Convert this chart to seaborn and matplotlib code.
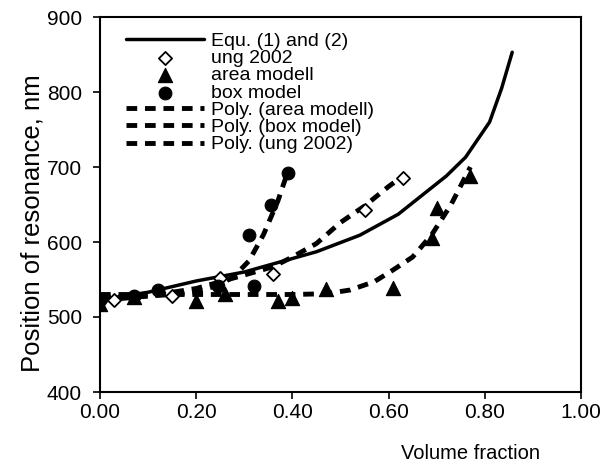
import numpy as np
import pandas as pd
import matplotlib
matplotlib.use("Agg")
import matplotlib.pyplot as plt
import seaborn as sns
from matplotlib.ticker import FormatStrFormatter

# ---- data ----
equ_x = [0.00, 0.10, 0.20, 0.30, 0.35, 0.45, 0.54, 0.62, 0.72, 0.76, 0.81, 0.835, 0.857]
equ_y = [523, 533, 548, 560, 569, 587, 609, 637, 688, 713, 760, 805, 853]

ung_x = [0.00, 0.03, 0.07, 0.15, 0.25, 0.36, 0.55, 0.63]
ung_y = [522, 523, 527, 528, 552, 558, 643, 686]

area_x = [0.00, 0.07, 0.20, 0.26, 0.37, 0.40, 0.47, 0.61, 0.69, 0.70, 0.77]
area_y = [518, 527, 522, 531, 521, 525, 538, 539, 605, 645, 688]

box_x = [0.00, 0.07, 0.12, 0.245, 0.32, 0.31, 0.355, 0.39]
box_y = [523, 528, 536, 542, 541, 610, 650, 692]

poly_area_x = [0.00, 0.10, 0.20, 0.30, 0.40, 0.47, 0.52, 0.57, 0.61, 0.65, 0.69, 0.73, 0.77]
poly_area_y = [530, 530, 530, 530, 530, 531, 536, 547, 563, 580, 610, 650, 700]

poly_box_x = [0.00, 0.05, 0.10, 0.15, 0.20, 0.25, 0.28, 0.31, 0.34, 0.37, 0.39]
poly_box_y = [526, 527, 528, 530, 534, 543, 555, 575, 610, 655, 693]

poly_ung_x = [0.00, 0.10, 0.20, 0.30, 0.36, 0.40, 0.45, 0.50, 0.55, 0.60, 0.63]
poly_ung_y = [522, 528, 538, 556, 567, 580, 598, 626, 648, 674, 688]

x_ticks = [0.0, 0.2, 0.4, 0.6, 0.8, 1.0]
y_ticks = [400, 500, 600, 700, 800, 900]

sns.set_style("ticks")
plt.rcParams['font.family'] = ['Liberation Sans', 'DejaVu Sans']
plt.rcParams['text.color'] = 'black'
plt.rcParams['axes.labelcolor'] = 'black'
plt.rcParams['xtick.color'] = 'black'
plt.rcParams['ytick.color'] = 'black'

fig = plt.figure(figsize=(6.05, 4.69), dpi=100)
ax = fig.add_axes([100/605, 1-392/469, 481/605, 375/469])

dash = (0, (2.2, 1.6))
sns.lineplot(x=equ_x, y=equ_y, ax=ax, color='black', lw=2.5, label='Equ. (1) and (2)', sort=False)
sns.scatterplot(x=ung_x, y=ung_y, ax=ax, marker='D', s=45, facecolor='white',
                edgecolor='black', linewidth=1.3, label='ung 2002', zorder=4)
sns.scatterplot(x=area_x, y=area_y, ax=ax, marker='^', s=105, color='black',
                edgecolor='black', label='area modell', zorder=4)
sns.scatterplot(x=box_x, y=box_y, ax=ax, marker='o', s=85, color='black',
                edgecolor='black', label='box model', zorder=4)
sns.lineplot(x=poly_area_x, y=poly_area_y, ax=ax, color='black', lw=3.5,
             label='Poly. (area modell)', sort=False, linestyle=dash)
sns.lineplot(x=poly_box_x, y=poly_box_y, ax=ax, color='black', lw=3.5,
             label='Poly. (box model)', sort=False, linestyle=dash)
sns.lineplot(x=poly_ung_x, y=poly_ung_y, ax=ax, color='black', lw=3.5,
             label='Poly. (ung 2002)', sort=False, linestyle=dash)

ax.set_xlim(0, 1.0)
ax.set_ylim(400, 900)
ax.set_xticks(x_ticks)
ax.set_yticks(y_ticks)
ax.xaxis.set_major_formatter(FormatStrFormatter('%.2f'))
for s in ax.spines.values():
    s.set_visible(True)
    s.set_linewidth(1.5)
    s.set_color('black')
ax.tick_params(direction='out', length=5, width=1.2, colors='black', labelcolor='black')
ax.tick_params(axis='x', labelsize=15, pad=3)
ax.tick_params(axis='y', labelsize=15, pad=8)

ax.set_xlabel('Volume fraction', fontsize=14.5, x=0.77, labelpad=16, color='black')
ax.set_ylabel('Position of resonance, nm', fontsize=18.5, y=0.45, labelpad=2, color='black')

leg = ax.legend(loc='upper left', frameon=False, fontsize=14, labelspacing=-0.02,
                handlelength=4.0, handletextpad=0.35, borderaxespad=0.2,
                bbox_to_anchor=(0.03, 0.99))
for t in leg.get_texts():
    t.set_color('black')

fig.savefig('out.png', dpi=100)
